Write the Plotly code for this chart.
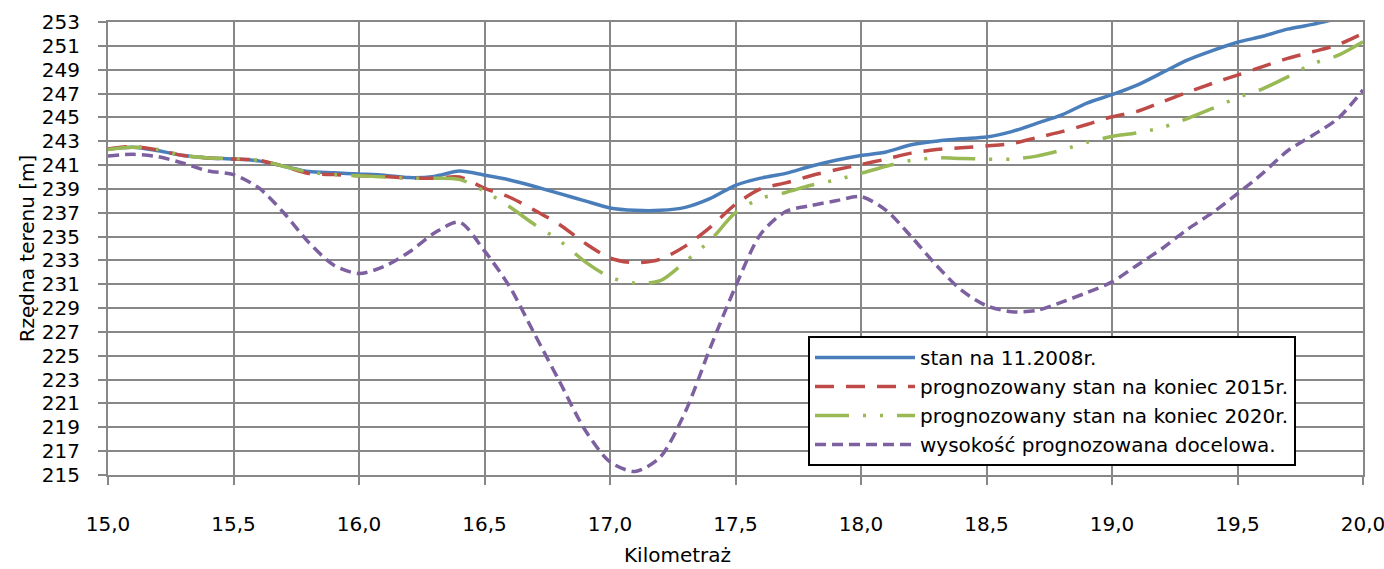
import plotly.graph_objects as go

km = [15.0, 15.1, 15.2, 15.3, 15.4, 15.5, 15.6, 15.7, 15.8, 15.9,
      16.0, 16.1, 16.2, 16.3, 16.4, 16.5, 16.6, 16.7, 16.8, 16.9,
      17.0, 17.1, 17.2, 17.3, 17.4, 17.5, 17.6, 17.7, 17.8, 17.9,
      18.0, 18.1, 18.2, 18.3, 18.4, 18.5, 18.6, 18.7, 18.8, 18.9,
      19.0, 19.1, 19.2, 19.3, 19.4, 19.5, 19.6, 19.7, 19.8, 19.9, 20.0]

stan_2008 = [242.35, 242.5, 242.2, 241.8, 241.6, 241.5, 241.35, 240.9, 240.45, 240.35,
             240.25, 240.15, 239.95, 240.05, 240.5, 240.15, 239.75, 239.2, 238.6, 238.0,
             237.4, 237.2, 237.2, 237.45, 238.2, 239.3, 239.9, 240.3, 240.9, 241.4,
             241.8, 242.1, 242.7, 243.0, 243.2, 243.35, 243.8, 244.5, 245.2, 246.2,
             246.9, 247.7, 248.75, 249.8, 250.6, 251.3, 251.8, 252.4, 252.8, 253.3, 253.8]

prog_2015 = [242.35, 242.55, 242.25, 241.8, 241.6, 241.5, 241.4, 240.9, 240.3, 240.2,
             240.1, 240.05, 239.9, 239.9, 240.0, 239.05, 238.3, 237.2, 236.0, 234.45,
             233.2, 232.8, 233.1, 234.2, 235.8, 237.7, 239.0, 239.5, 240.1, 240.6,
             241.05, 241.5, 242.0, 242.3, 242.45, 242.6, 242.8, 243.3, 243.8, 244.4,
             245.05, 245.5, 246.3, 247.1, 247.85, 248.55, 249.25, 249.95, 250.5, 251.1, 252.05]

prog_2020 = [242.3, 242.5, 242.3, 241.8, 241.6, 241.55, 241.4, 240.9, 240.4, 240.2,
             240.1, 240.0, 239.9, 239.9, 239.8, 238.8, 237.5, 236.0, 234.65, 232.9,
             231.6, 231.1, 231.3, 232.9, 234.7, 237.0, 238.2, 238.7, 239.3, 239.75,
             240.3, 240.9, 241.4, 241.6, 241.55, 241.5, 241.5, 241.75, 242.25, 242.9,
             243.4, 243.7, 244.15, 244.9, 245.75, 246.65, 247.4, 248.4, 249.5, 250.2, 251.35]

docelowa = [241.75, 241.9, 241.7, 241.15, 240.5, 240.2, 239.1, 237.0, 234.5, 232.6,
            231.9, 232.5, 233.7, 235.3, 236.2, 233.8, 230.8, 226.8, 222.8, 218.8,
            216.1, 215.3, 216.5, 220.3, 225.7, 230.8, 235.2, 237.1, 237.6, 238.0,
            238.35, 237.2, 235.0, 232.6, 230.5, 229.2, 228.7, 228.8, 229.5, 230.3,
            231.2, 232.6, 234.0, 235.6, 237.0, 238.6, 240.3, 242.2, 243.5, 244.9, 247.3]

names = ["stan na 11.2008r.",
         "prognozowany stan na koniec 2015r.",
         "prognozowany stan na koniec 2020r.",
         "wysokość prognozowana docelowa."]

y_ticks = list(range(215, 254, 2))
x_ticks = [15.0, 15.5, 16.0, 16.5, 17.0, 17.5, 18.0, 18.5, 19.0, 19.5, 20.0]

FONT = "DejaVu Sans"
GRID = "#878787"

series = [
    (stan_2008, "#4A7EBB", "solid"),
    (prog_2015, "#BE4B48", "19px,12px"),
    (prog_2020, "#98B954", "34px,14px,3px,14px,3px,14px"),
    (docelowa, "#7D60A0", "11px,6px"),
]

fig = go.Figure()
for (vals, color, dash), name in zip(series, names):
    fig.add_trace(go.Scatter(
        x=km, y=vals, name=name, mode="lines",
        line=dict(color=color, width=3.5, dash=dash, shape="spline", smoothing=0.8),
    ))

fig.update_layout(
    width=1384, height=569,
    margin=dict(l=108, r=21, t=22, b=94, autoexpand=False),
    paper_bgcolor="white", plot_bgcolor="white",
    separators=", ",
    font=dict(family=FONT, size=19, color="black"),
    showlegend=True,
    legend=dict(
        x=(808 - 108) / 1255, y=1 - (336 - 22) / 453, xanchor="left", yanchor="top",
        bgcolor="white", bordercolor="black", borderwidth=2,
        font=dict(family=FONT, size=20, color="black"),
        itemwidth=100, tracegroupgap=0,
    ),
)

fig.update_xaxes(
    range=[15.0, 20.0], tickmode="array", tickvals=x_ticks, tickformat=".1f",
    automargin=False,
    showgrid=True, gridcolor=GRID, gridwidth=2,
    showline=True, linecolor=GRID, linewidth=2, mirror=True,
    ticks="outside", ticklen=8, tickcolor=GRID, tickwidth=2,
    ticklabelstandoff=22, ticklabeloverflow="allow", zeroline=False,
    tickfont=dict(family=FONT, size=20),
)
fig.update_yaxes(
    range=[215, 253], tickmode="array", tickvals=y_ticks,
    automargin=False,
    showgrid=True, gridcolor=GRID, gridwidth=2,
    showline=True, linecolor=GRID, linewidth=2, mirror=True,
    ticks="outside", ticklen=8, tickcolor=GRID, tickwidth=2,
    ticklabelstandoff=14, ticklabeloverflow="allow", zeroline=False,
    tickfont=dict(family=FONT, size=20),
    title=dict(text="Rzędna terenu [m]", font=dict(family=FONT, size=20), standoff=2),
)

fig.add_annotation(
    text="Kilometraż", xref="paper", yref="paper",
    x=(677 - 108) / 1255, y=-(555 - 475) / 453,
    xanchor="center", yanchor="middle", showarrow=False,
    font=dict(family=FONT, size=20, color="black"),
)

fig.write_html("out.html", config={"displayModeBar": False},
               post_script="document.body.style.margin='0';")
